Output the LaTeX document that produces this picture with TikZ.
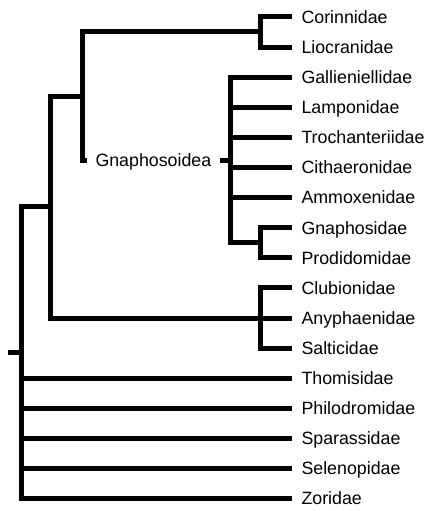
\documentclass[tikz,border=0pt]{standalone}
\usepackage{fontspec}
\setmainfont{Liberation Sans}
\begin{document}
\begin{tikzpicture}[x=1pt, y=-1pt, line width=5pt, line join=miter,
    every node/.style={font=\fontsize{17.8}{20}\selectfont},
    taxon/.style={anchor=west, inner xsep=7pt, inner ysep=0pt, text height=12.6pt, text depth=0pt}]
  \useasboundingbox (0,0) rectangle (425,511);
  % Families
  \foreach \n/\lab [count=\i from 0] in {cor/Corinnidae, lio/Liocranidae,
      gal/Gallieniellidae, lam/Lamponidae, tro/Trochanteriidae, cit/Cithaeronidae,
      amm/Ammoxenidae, gns/Gnaphosidae, pro/Prodidomidae, clu/Clubionidae,
      any/Anyphaenidae, sal/Salticidae, tho/Thomisidae, phi/Philodromidae,
      spa/Sparassidae, sel/Selenopidae, zor/Zoridae} {
     \node[taxon] (\n) at (292,{17+30.1*\i}) {\lab};
  }
  \node[taxon, inner xsep=6pt] (gna) at (87,160) {Gnaphosoidea};

  % Branch points
  \coordinate (base) at (8,352.6);
  \coordinate (root) at (21,352.6);
  \coordinate (n1) at (50,206.5);
  \coordinate (n2) at (82,96);
  \coordinate (cl) at (260,32);
  \coordinate (gn) at (230,160);
  \coordinate (gp) at (260,242.7);
  \coordinate (cs) at (260,318);

  % Corinnidae + Liocranidae
  \draw (cor.west) -| (cl) |- (lio.west);
  \draw (cl) -| (n2) |- (gna.west);

  % Gnaphosoidea
  \draw (gna.east) -- (gn);
  \draw (gal.west) -| (gn) |- (gp);
  \foreach \n in {lam,tro,cit,amm} \draw (gn |- \n.west) -- (\n.west);
  \draw (gns.west) -| (gp) |- (pro.west);

  % Clubionidae, Anyphaenidae, Salticidae
  \draw (n2) -| (n1) |- (any.west);
  \draw (clu.west) -| (cs) |- (sal.west);

  % Root
  \draw (base) -- (root);
  \draw (n1) -| (root) |- (zor.west);
  \foreach \n in {tho,phi,spa,sel} \draw (root |- \n.west) -- (\n.west);
\end{tikzpicture}
\end{document}
